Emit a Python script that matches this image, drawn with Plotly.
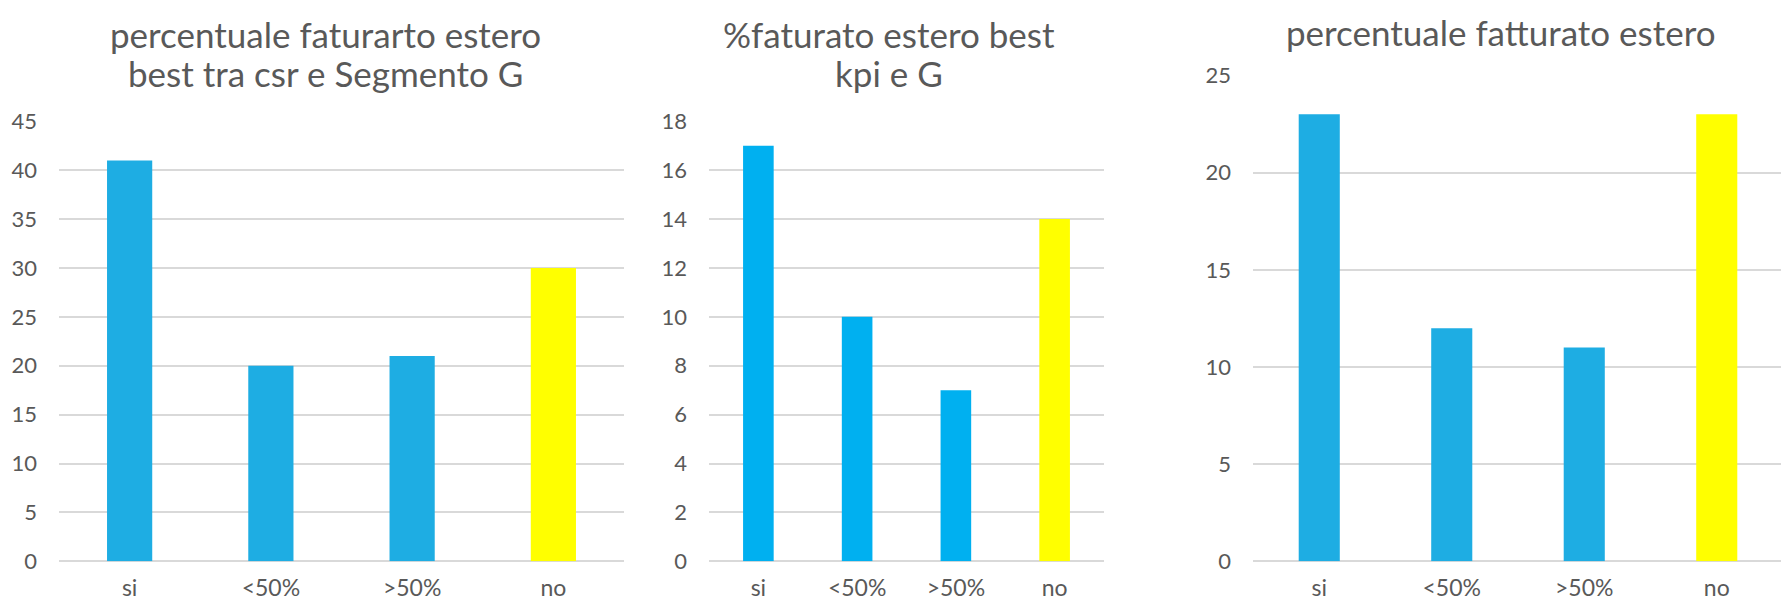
import plotly.graph_objects as go

# the page body adds an 8px margin, so the figure is drawn 8px in from the top-left
OFF = 8
W, H = 1789 - OFF, 603 - OFF

categories = ["si", "<50%", ">50%", "no"]

csr_values = [41, 20, 21, 30]
kpi_values = [17, 10, 7, 14]
tot_values = [23, 12, 11, 23]

title_lines = [
    ["percentuale faturarto estero", "best tra csr e Segmento G"],
    ["%faturato estero best", "kpi e G"],
    ["percentuale fatturato estero"],
]

blue1 = "#1EADE3"
blue2 = "#00B0F0"
yellow = "#FFFF00"
grey_text = "#595959"
grid = "#D9D9D9"
font_family = "Lato"


def px_x(p):
    return (p - OFF) / W


def px_y(p):
    return (H - (p - OFF)) / H


fig = go.Figure()

zero_px = 573
panels = [
    # values, bar colour, y max, dtick, x px range, y top px, bar width
    (csr_values, blue1, 45, 5, (59, 624), 112, 0.32),
    (kpi_values, blue2, 18, 2, (709, 1104), 112, 0.31),
    (tot_values, blue1, 25, 5, (1253, 1783), 64, 0.31),
]

for i, (vals, col, ymax, dt, (x0, x1), ytop, bw) in enumerate(panels):
    n = "" if i == 0 else str(i + 1)
    colors = [col] * (len(vals) - 1) + [yellow]
    fig.add_trace(go.Bar(
        x=categories,
        y=vals,
        marker=dict(color=colors, line=dict(width=0)),
        width=bw,
        xaxis="x" + n,
        yaxis="y" + n,
        showlegend=False,
        hoverinfo="x+y",
    ))
    fig.layout["xaxis" + n] = dict(
        domain=[px_x(x0), px_x(x1)],
        anchor="y" + n,
        range=[-0.5, 3.5],
        showgrid=False,
        showline=False,
        zeroline=False,
        ticks="",
        ticklabelstandoff=11,
        tickfont=dict(family=font_family, size=23, color=grey_text),
        fixedrange=True,
    )
    fig.layout["yaxis" + n] = dict(
        domain=[px_y(zero_px), px_y(ytop)],
        anchor="x" + n,
        range=[0, ymax],
        dtick=dt,
        tick0=0,
        showgrid=True,
        gridcolor=grid,
        gridwidth=1.5,
        zeroline=True,
        zerolinecolor=grid,
        zerolinewidth=1.5,
        showline=False,
        ticks="",
        ticklabelstandoff=21,
        tickfont=dict(family=font_family, size=22, color=grey_text),
        fixedrange=True,
    )

# centre x of each title, y centre of each line
title_x = [325, 889, 1501]
line_y = [[21, 61], [21, 61], [18]]
for lines, cx, ys in zip(title_lines, title_x, line_y):
    for t, cy in zip(lines, ys):
        fig.add_annotation(
            text=t,
            x=px_x(cx), y=px_y(cy),
            xref="paper", yref="paper",
            xanchor="center", yanchor="middle",
            showarrow=False,
            font=dict(family=font_family, size=35, color=grey_text),
        )

fig.update_layout(
    width=W,
    height=H,
    margin=dict(l=0, r=0, t=0, b=0),
    paper_bgcolor="white",
    plot_bgcolor="white",
)

fig.write_html("out.html")
